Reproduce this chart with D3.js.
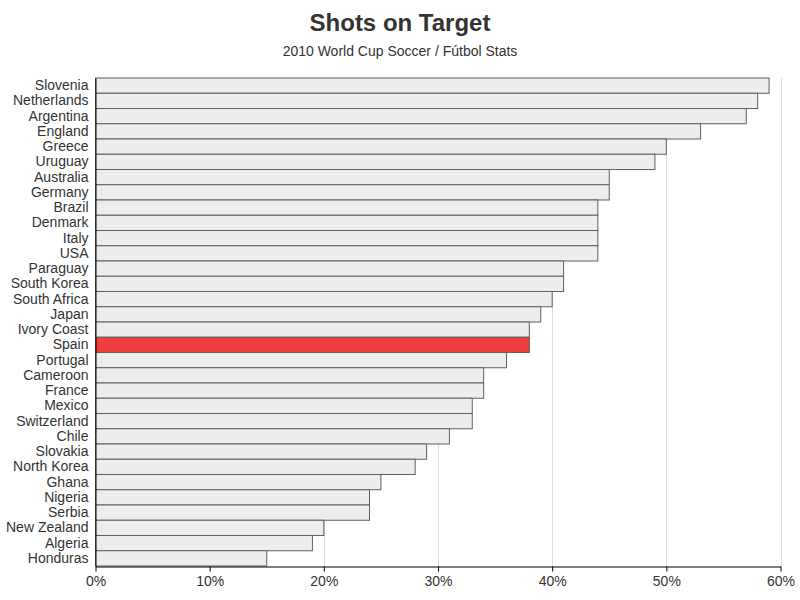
<!DOCTYPE html>
<html><head><meta charset="utf-8">
<script src="https://cdn.jsdelivr.net/npm/d3@7"></script>
<style>body{margin:0;background:#fff}</style>
</head><body>
<svg id="chart" width="800" height="600"></svg>
<script>
const countries = ["Slovenia","Netherlands","Argentina","England","Greece","Uruguay","Australia","Germany","Brazil","Denmark","Italy","USA","Paraguay","South Korea","South Africa","Japan","Ivory Coast","Spain","Portugal","Cameroon","France","Mexico","Switzerland","Chile","Slovakia","North Korea","Ghana","Nigeria","Serbia","New Zealand","Algeria","Honduras"];
const shotsPct = [59,58,57,53,50,49,45,45,44,44,44,44,41,41,40,39,38,38,36,34,34,33,33,31,29,28,25,24,24,20,19,15];
const highlight = ["Spain"];
const xTicks = [0,10,20,30,40,50,60];
const title = "Shots on Target";
const subtitle = "2010 World Cup Soccer / Fútbol Stats";

const svg = d3.select("#chart");
const font = "'Liberation Sans', Arial, sans-serif";
const m = {left:95.5, right:780.5, top:78, bottom:566};
const x = d3.scaleLinear().domain([0,60]).range([m.left, m.right]);
const y = d3.scaleBand().domain(countries).range([m.top, m.bottom]).padding(0);

svg.append("text").attr("x",400).attr("y",31).attr("text-anchor","middle")
  .attr("font-family",font).attr("font-weight","bold").attr("font-size",24).attr("fill","#333").text(title);
svg.append("text").attr("x",400).attr("y",56).attr("text-anchor","middle")
  .attr("font-family",font).attr("font-size",14).attr("fill","#333").text(subtitle);

// gridlines
svg.append("g").selectAll("line").data(xTicks.filter(d=>d>0)).join("line")
  .attr("x1",d=>Math.round(x(d))+0.5).attr("x2",d=>Math.round(x(d))+0.5)
  .attr("y1",m.top).attr("y2",m.bottom).attr("stroke","#dcdcdc").attr("stroke-width",1);

// bars
svg.append("g").selectAll("rect").data(countries).join("rect")
  .attr("x",x(0)).attr("y",d=>y(d))
  .attr("width",(d,i)=>x(shotsPct[i])-x(0)).attr("height",y.bandwidth())
  .attr("fill",d=>highlight.includes(d)?"#ef3e3e":"#ededed")
  .attr("stroke","#5f5f5f").attr("stroke-width",1);

// y axis
const yAxis = svg.append("g").attr("transform",`translate(${m.left},0)`)
  .call(d3.axisLeft(y).tickSize(0).tickPadding(7));
yAxis.select(".domain").attr("stroke","#000");
yAxis.selectAll("text").attr("font-family",font).attr("font-size",14).attr("fill","#333");

// x axis
const xAxis = svg.append("g").attr("transform",`translate(0,${m.bottom+0.5})`)
  .call(d3.axisBottom(x).tickValues(xTicks).tickFormat(d=>d+"%").tickSize(5).tickSizeOuter(0).tickPadding(5));
xAxis.select(".domain").attr("stroke","#000");
xAxis.selectAll(".tick line").attr("stroke","#000");
xAxis.selectAll("text").attr("font-family",font).attr("font-size",14).attr("fill","#333");
</script>
</body></html>
